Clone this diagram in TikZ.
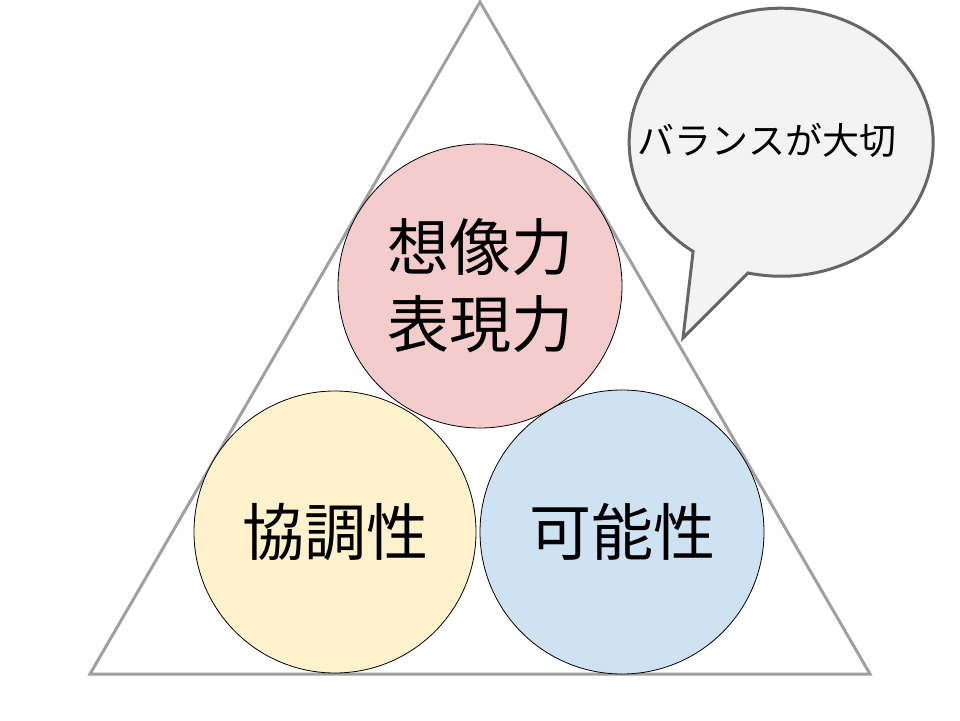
\documentclass[tikz,border=0pt]{standalone}
\usepackage{fontspec}
\newfontfamily\cjk{Noto Sans CJK JP}
\definecolor{tri}{HTML}{A0A0A0}
\definecolor{pinkf}{HTML}{F4CCCC}
\definecolor{yellowf}{HTML}{FFF2CC}
\definecolor{bluef}{HTML}{CFE2F3}
\definecolor{bubf}{HTML}{F3F3F3}
\definecolor{bubd}{HTML}{666666}
\begin{document}
\begin{tikzpicture}[x=1pt,y=1pt,
  tristyle/.style={draw=tri,line width=3pt,line join=miter},
  ball/.style={circle,draw=black,line width=0.8pt,minimum size=#1,inner sep=0pt,align=center,
    font=\cjk\fontsize{62}{77}\selectfont},
  bubble/.style={draw=bubd,fill=bubf,line width=3pt,line join=miter},
  bubtext/.style={font=\cjk\fontsize{37}{44}\selectfont,inner sep=0pt}]
\useasboundingbox (0,0) rectangle (960,720);
\coordinate (apex) at (480,718);
\coordinate (bl) at (90,46);
\coordinate (br) at (870,46);
\draw[tristyle] (apex) -- (bl) -- (br) -- cycle;
\node[ball=284pt,fill=pinkf] (pink) at (480,434) {想像力\\表現力};
\node[ball=282pt,fill=yellowf] (yellow) at (335,188) {協調性};
\node[ball=284pt,fill=bluef] (blue) at (622,188) {可能性};
\coordinate (tb) at (748,447);
\coordinate (tip) at (683,382);
\draw[bubble] (tb) arc[start angle=257.4, end angle=594.6, x radius=152pt, y radius=134pt] -- (tip) -- cycle;
\node[bubtext] (bt) at (767,580) {バランスが大切};
\end{tikzpicture}
\end{document}
